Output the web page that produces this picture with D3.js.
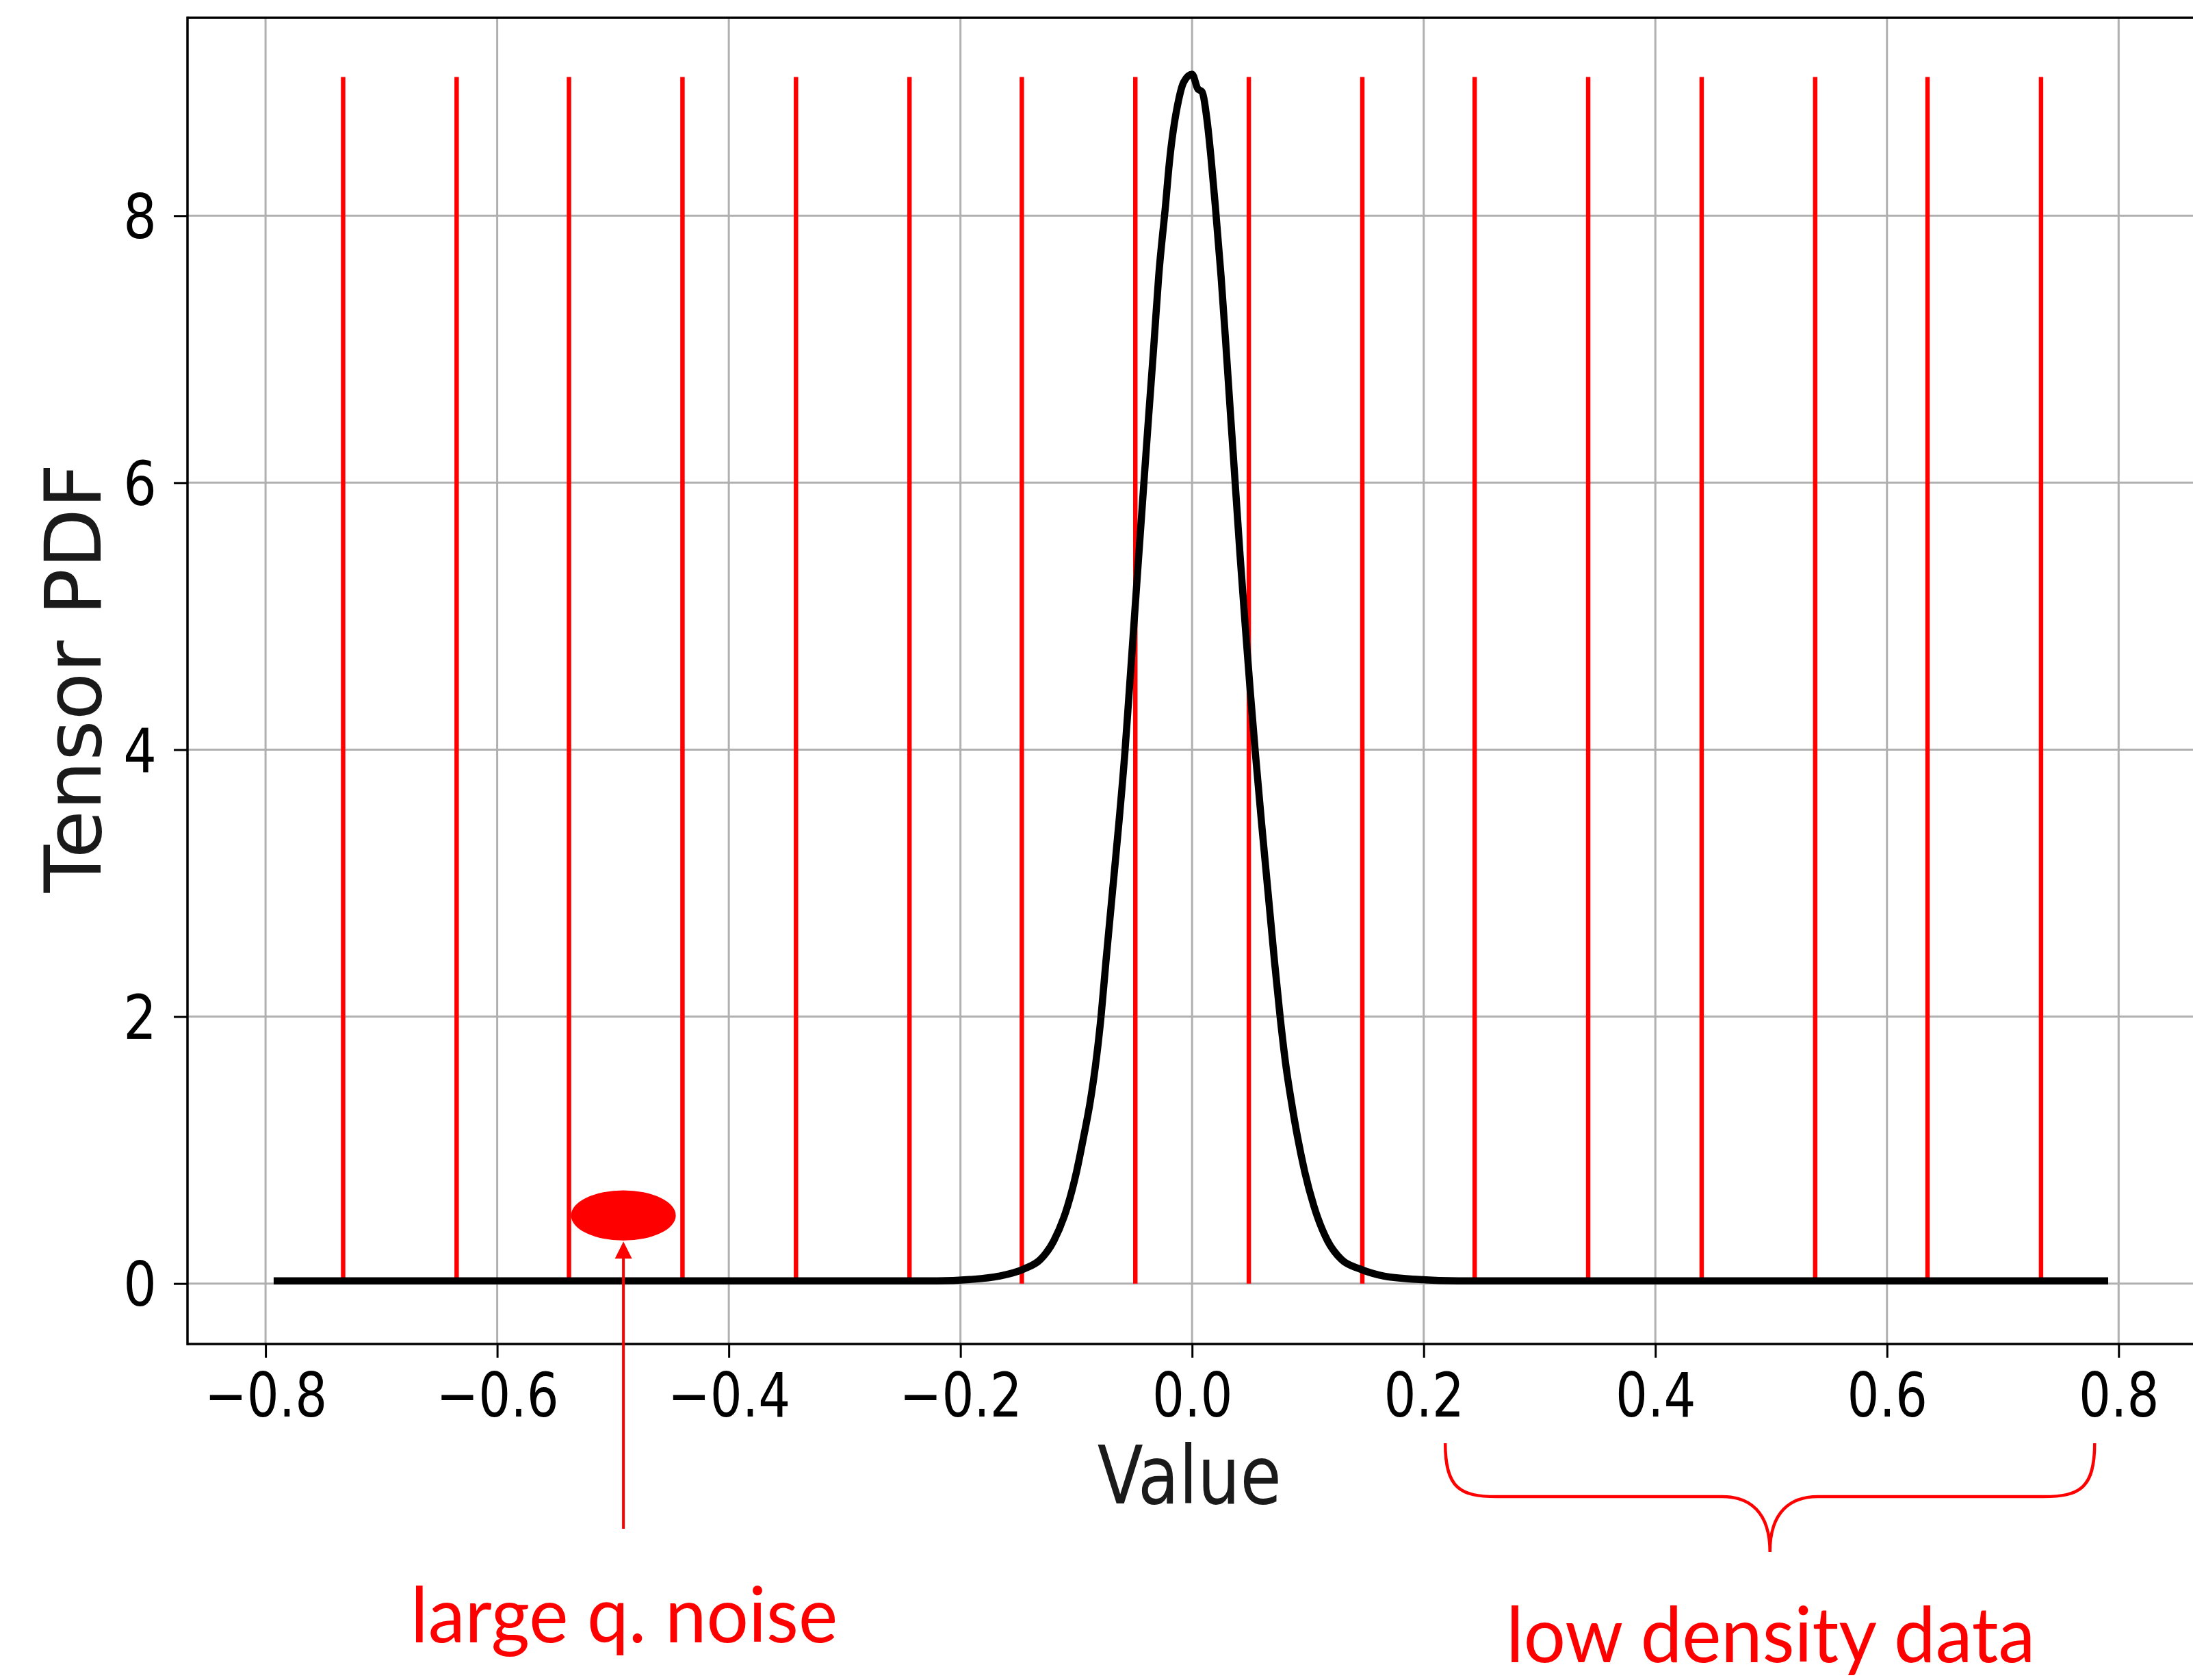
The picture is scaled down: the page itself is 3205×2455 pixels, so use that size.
<!DOCTYPE html>
<html>
<head>
<meta charset="utf-8">
<script src="https://cdn.jsdelivr.net/npm/d3@7"></script>
<style>
  html, body { margin: 0; padding: 0; background: #ffffff; }
  svg { display: block; }
</style>
</head>
<body>
<div id="chart"></div>
<script>
// ---------------- data ----------------
const pdfX = [-0.793, -0.6, -0.4, -0.3, -0.22, -0.192, -0.167, -0.145, -0.131, -0.1194, -0.1075,
  -0.0997, -0.0936, -0.0880, -0.0836, -0.0786, -0.0744, -0.0688, -0.0632, -0.0580, -0.0544,
  -0.0502, -0.0460, -0.0416, -0.0374, -0.0330, -0.0288, -0.0229, -0.0197, -0.0118, -0.0073,
  0.0, 0.005, 0.0085, 0.013, 0.0165, 0.0200, 0.0250, 0.0292, 0.0332, 0.0372, 0.0414, 0.0458,
  0.0504, 0.0546, 0.0600, 0.0656, 0.0712, 0.0760, 0.0812, 0.0858, 0.0910, 0.0972, 0.1052,
  0.117, 0.129, 0.1446, 0.166, 0.196, 0.23, 0.4, 0.6, 0.791];
const pdfY = [0.02, 0.02, 0.02, 0.02, 0.02, 0.03, 0.055, 0.11, 0.18, 0.32, 0.58,
  0.84, 1.10, 1.36, 1.62, 2.0, 2.41, 2.93, 3.45, 3.98, 4.42,
  4.94, 5.46, 6.0, 6.51, 7.03, 7.55, 8.08, 8.39, 8.86, 9.0,
  9.06, 8.95, 8.93, 8.71, 8.42, 8.08, 7.55, 7.03, 6.51, 6.0, 5.46, 4.94,
  4.42, 3.98, 3.45, 2.93, 2.41, 2.0, 1.62, 1.36, 1.10, 0.84, 0.58,
  0.32, 0.18, 0.11, 0.055, 0.03, 0.02, 0.02, 0.02, 0.02];
const quantLevels = [-0.733, -0.635, -0.538, -0.440, -0.342, -0.244, -0.147, -0.049,
  0.049, 0.147, 0.244, 0.342, 0.440, 0.538, 0.635, 0.733];
const quantHeight = 9.04;
const xTicks = [-0.8, -0.6, -0.4, -0.2, 0.0, 0.2, 0.4, 0.6, 0.8];
const yTicks = [0, 2, 4, 6, 8];
const xLabel = "Value";
const yLabel = "Tensor PDF";
const noiseText = "large q. noise";
const noiseX = -0.491, noiseY = 0.51;
const braceFrom = 0.2186, braceTo = 0.7793;
const densityText = "low density data";

// ---------------- layout ----------------
const W = 3205, H = 2455;
const L = 274, T = 26, B = 1964, R = 3208;

const x = d3.scaleLinear().domain([-0.8674, 0.866]).range([L, R]);
const y = d3.scaleLinear().domain([-0.453, 9.483]).range([B, T]);

const svg = d3.select("#chart").append("svg")
  .attr("width", W).attr("height", H)
  .attr("viewBox", `0 0 ${W} ${H}`);

svg.append("defs").append("clipPath").attr("id", "plotclip")
  .append("rect").attr("x", L).attr("y", T).attr("width", R - L).attr("height", B - T);

const plot = svg.append("g").attr("clip-path", "url(#plotclip)");

// grid
plot.selectAll("line.gx").data(xTicks).join("line")
  .attr("x1", d => x(d)).attr("x2", d => x(d))
  .attr("y1", T).attr("y2", B)
  .attr("stroke", "#b0b0b0").attr("stroke-width", 3);
plot.selectAll("line.gy").data(yTicks).join("line")
  .attr("x1", L).attr("x2", R)
  .attr("y1", d => y(d)).attr("y2", d => y(d))
  .attr("stroke", "#b0b0b0").attr("stroke-width", 3);

// quantization levels
plot.selectAll("line.q").data(quantLevels).join("line")
  .attr("x1", d => x(d)).attr("x2", d => x(d))
  .attr("y1", y(0)).attr("y2", y(quantHeight))
  .attr("stroke", "#ff0000").attr("stroke-width", 6.5);

// pdf curve
const pts = pdfX.map((v, i) => [v, pdfY[i]]);
plot.append("path")
  .datum(pts)
  .attr("d", d3.line().x(d => x(d[0])).y(d => y(d[1])).curve(d3.curveMonotoneX))
  .attr("fill", "none").attr("stroke", "#000").attr("stroke-width", 10.5)
  .attr("stroke-linejoin", "round");

// spines (left, top, bottom; right edge lies beyond the picture)
svg.append("line").attr("x1", L).attr("x2", L).attr("y1", T - 1.7).attr("y2", B + 1.7)
  .attr("stroke", "#000").attr("stroke-width", 3.5);
svg.append("line").attr("x1", L).attr("x2", R).attr("y1", T).attr("y2", T)
  .attr("stroke", "#000").attr("stroke-width", 3.5);
svg.append("line").attr("x1", L).attr("x2", R).attr("y1", B).attr("y2", B)
  .attr("stroke", "#000").attr("stroke-width", 3.5);

// axes via d3
const fmtX = d3.format(".1f");
const xAxis = d3.axisBottom(x).tickValues(xTicks).tickFormat(fmtX).tickSize(20).tickPadding(0);
const gx = svg.append("g").attr("transform", `translate(0,${B})`).call(xAxis);
gx.select(".domain").remove();
gx.selectAll(".tick line").attr("stroke", "#000").attr("stroke-width", 3);
gx.selectAll(".tick text").remove();
gx.selectAll(".tick").append("text")
  .attr("transform", "translate(0,106) scale(0.83,1)")
  .attr("text-anchor", "middle")
  .attr("font-family", "DejaVu Sans")
  .attr("font-size", 89)
  .attr("fill", "#000")
  .text(d => fmtX(d));

const yAxis = d3.axisLeft(y).tickValues(yTicks).tickFormat(d3.format("d")).tickSize(20).tickPadding(0);
const gy = svg.append("g").attr("transform", `translate(${L},0)`).call(yAxis);
gy.select(".domain").remove();
gy.selectAll(".tick line").attr("stroke", "#000").attr("stroke-width", 3);
gy.selectAll(".tick text").remove();
gy.selectAll(".tick").append("text")
  .attr("transform", "translate(-45,32) scale(0.86,1)")
  .attr("text-anchor", "end")
  .attr("font-family", "DejaVu Sans")
  .attr("font-size", 89)
  .attr("fill", "#000")
  .text(d => d3.format("d")(d));

// axis labels
svg.append("text")
  .attr("transform", `translate(${x(0) - 4},2197) scale(0.83,1)`)
  .attr("text-anchor", "middle")
  .attr("font-family", "DejaVu Sans")
  .attr("font-size", 118)
  .attr("fill", "#1a1a1a")
  .text(xLabel);

svg.append("text")
  .attr("transform", `translate(147,${(T + B) / 2 - 4}) rotate(-90)`)
  .attr("text-anchor", "middle")
  .attr("font-family", "DejaVu Sans")
  .attr("font-size", 114)
  .attr("fill", "#1a1a1a")
  .text(yLabel);

// ---------------- annotations ----------------
const red = "#ff0000";
// noise marker
svg.append("ellipse")
  .attr("cx", x(noiseX)).attr("cy", y(noiseY))
  .attr("rx", 76.5).attr("ry", 36.7)
  .attr("fill", red);
const ax = x(noiseX);
svg.append("line")
  .attr("x1", ax).attr("x2", ax)
  .attr("y1", 2234).attr("y2", y(noiseY) + 60)
  .attr("stroke", red).attr("stroke-width", 4);
svg.append("path")
  .attr("d", `M${ax - 12.5},${y(noiseY) + 63} L${ax + 12.5},${y(noiseY) + 63} L${ax},${y(noiseY) + 38} Z`)
  .attr("fill", red);
svg.append("text")
  .attr("x", ax + 1).attr("y", 2400)
  .attr("text-anchor", "middle")
  .attr("font-family", "Lato")
  .attr("font-size", 112)
  .attr("textLength", 624).attr("lengthAdjust", "spacingAndGlyphs")
  .attr("fill", red)
  .text(noiseText);

// brace
const xl = x(braceFrom), xr = x(braceTo), xm = (xl + xr) / 2;
const y0 = 2109, y1 = 2187, y2 = 2268;
const braceD = `M${xl},${y0} C${xl},${y1 - 12} ${xl + 22},${y1} ${xl + 75},${y1}`
  + ` L${xm - 70},${y1} C${xm - 30},${y1} ${xm},${y1 + 22} ${xm},${y2}`
  + ` C${xm},${y1 + 22} ${xm + 30},${y1} ${xm + 70},${y1}`
  + ` L${xr - 75},${y1} C${xr - 22},${y1} ${xr},${y1 - 12} ${xr},${y0}`;
svg.append("path").attr("d", braceD)
  .attr("fill", "none").attr("stroke", red).attr("stroke-width", 4.5);
svg.append("text")
  .attr("x", xm + 1).attr("y", 2429)
  .attr("text-anchor", "middle")
  .attr("font-family", "Lato")
  .attr("font-size", 112)
  .attr("textLength", 773).attr("lengthAdjust", "spacingAndGlyphs")
  .attr("fill", red)
  .text(densityText);
</script>
</body>
</html>
